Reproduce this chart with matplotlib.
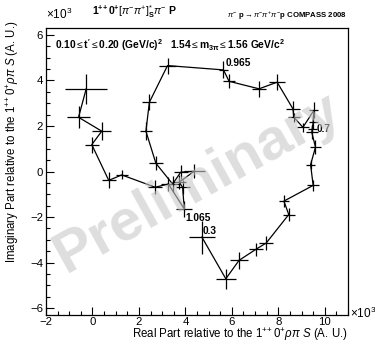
"""Argand plot: 1++0+ [pi pi]_S pi P wave relative to 1++0+ rho pi S (COMPASS 2008)."""
import numpy as np
import matplotlib
matplotlib.use("Agg")
import matplotlib.pyplot as plt
from matplotlib.ticker import MultipleLocator

plt.rcParams["font.family"] = ["Liberation Sans", "DejaVu Sans"]
plt.rcParams["mathtext.fontset"] = "custom"
plt.rcParams["mathtext.rm"] = "Liberation Sans"
plt.rcParams["mathtext.it"] = "Liberation Sans:italic"
plt.rcParams["mathtext.bf"] = "Liberation Sans:bold"

# real / imaginary parts (x10^3) along the 2pi mass scan
re_part = [4.71, 5.74, 6.31, 7.03, 7.48, 8.45, 8.24, 9.50, 9.39, 9.60, 9.44, 9.46,
           9.50, 9.53, 9.06, 8.67, 8.63, 7.95, 7.17, 5.88, 5.64, 3.23, 2.45, 2.30,
           2.73, 3.45, 3.80, 4.38, 3.73, 3.88, 3.95, 3.27, 2.70, 1.26, 0.70, -0.03,
           0.40, -0.60, -0.27]
im_part = [-2.88, -4.71, -3.90, -3.42, -3.14, -1.89, -1.30, -0.61, 0.30, 1.07, 1.72, 1.87,
           2.16, 2.68, 1.94, 2.38, 2.75, 3.92, 3.63, 3.96, 4.46, 4.65, 3.04, 1.77,
           0.36, -0.55, -0.03, 0.01, -0.47, -0.69, -1.64, -0.55, -0.69, -0.15, -0.39, 1.18,
           1.77, 2.38, 3.63]
re_err = [0.55, 0.43, 0.40, 0.30, 0.30, 0.25, 0.20, 0.25, 0.20, 0.25, 0.25, 0.20,
          0.20, 0.20, 0.25, 0.25, 0.30, 0.35, 0.30, 0.25, 0.20, 0.35, 0.30, 0.25,
          0.30, 0.30, 0.30, 0.45, 0.30, 0.30, 0.35, 0.30, 0.30, 0.25, 0.30, 0.30,
          0.40, 0.50, 0.90]
im_err = [0.72, 0.44, 0.38, 0.30, 0.30, 0.30, 0.25, 0.25, 0.20, 0.30, 0.30, 0.15,
          0.30, 0.35, 0.20, 0.20, 0.35, 0.35, 0.35, 0.30, 0.37, 0.35, 0.35, 0.40,
          0.30, 0.35, 0.30, 0.30, 0.30, 0.30, 0.35, 0.30, 0.30, 0.20, 0.35, 0.35,
          0.40, 0.48, 0.66]
mass_labels = {0: "0.3", 10: "0.7", 20: "0.965", 30: "1.065"}
label_offsets = {0: (0.05, 0.12), 10: (0.2, 0.0), 20: (0.1, 0.15), 30: (0.05, -0.55)}

fig = plt.figure(figsize=(3.75, 3.44), dpi=100)
ax = fig.add_axes([0.1227, 0.0843, 0.8053, 0.8343])

ax.errorbar(re_part, im_part, xerr=re_err, yerr=im_err, color="black",
            lw=0.9, elinewidth=0.9, capsize=0, fmt="-")
for i, lab in mass_labels.items():
    dx, dy = label_offsets[i]
    ax.text(re_part[i] + dx, im_part[i] + dy, lab, fontsize=7.3, fontweight="bold")

ax.set_xlim(-2, 11)
ax.set_ylim(-6.3, 6.3)
ax.xaxis.set_major_locator(MultipleLocator(2))
ax.xaxis.set_minor_locator(MultipleLocator(0.5))
ax.yaxis.set_major_locator(MultipleLocator(2))
ax.yaxis.set_minor_locator(MultipleLocator(0.5))
ax.tick_params(which="both", direction="in", top=False, right=False, labelsize=8.2, width=0.8)
ax.tick_params(which="major", length=6)
ax.tick_params(which="minor", length=3)
ax.tick_params(axis="x", pad=1.5)
ax.tick_params(axis="y", pad=2)
for s in ax.spines.values():
    s.set_linewidth(0.9)

# watermark
ax.text(0.5, 0.46, "Preliminary", transform=ax.transAxes, fontsize=42,
        fontweight="bold", color="#c8c8c8", alpha=0.6, rotation=29,
        ha="center", va="center", zorder=10)

fig.text(0.123, 0.935, r"$\times$10$^3$", fontsize=8.5, ha="left", va="bottom")
fig.text(0.932, 0.088, r"$\times$10$^3$", fontsize=8.5, ha="left", va="center")
fig.text(0.245, 0.965, r"$\mathbf{1^{+\!+}0^{+}}[\pi^{-}\pi^{+}]^{*}_{\mathbf{S}}\pi^{-}$ $\mathit{\mathbf{P}}$",
         fontsize=7.5, fontweight="bold", ha="left", va="center")
fig.text(0.925, 0.955, r"$\pi^{-}$ p$\rightarrow\pi^{-}\pi^{+}\pi^{-}$p COMPASS 2008",
         fontsize=5.6, fontweight="bold", ha="right", va="center")
ax.text(0.03, 0.968, r"0.10$\leq$$\mathbf{t'}$$\leq$0.20 (GeV/$\mathbf{c}$)$^{\mathbf{2}}$   "
        r"1.54$\leq$m$_{\mathbf{3\pi}}$$\leq$1.56 GeV/$\mathbf{c}^{\mathbf{2}}$",
        transform=ax.transAxes, fontsize=7.4, fontweight="bold", ha="left", va="top")

fig.text(0.928, 0.002, r"Real Part relative to the 1$^{+\!+}$0$^{+}$$\rho\pi$ $\mathit{S}$ (A. U.)",
         fontsize=8.3, ha="right", va="bottom")
fig.text(0.01, 0.94, r"Imaginary Part relative to the 1$^{+\!+}$0$^{+}$$\rho\pi$ $\mathit{S}$ (A. U.)",
         fontsize=8.3, ha="left", va="top", rotation=90)

fig.savefig("out.png", dpi=100)
